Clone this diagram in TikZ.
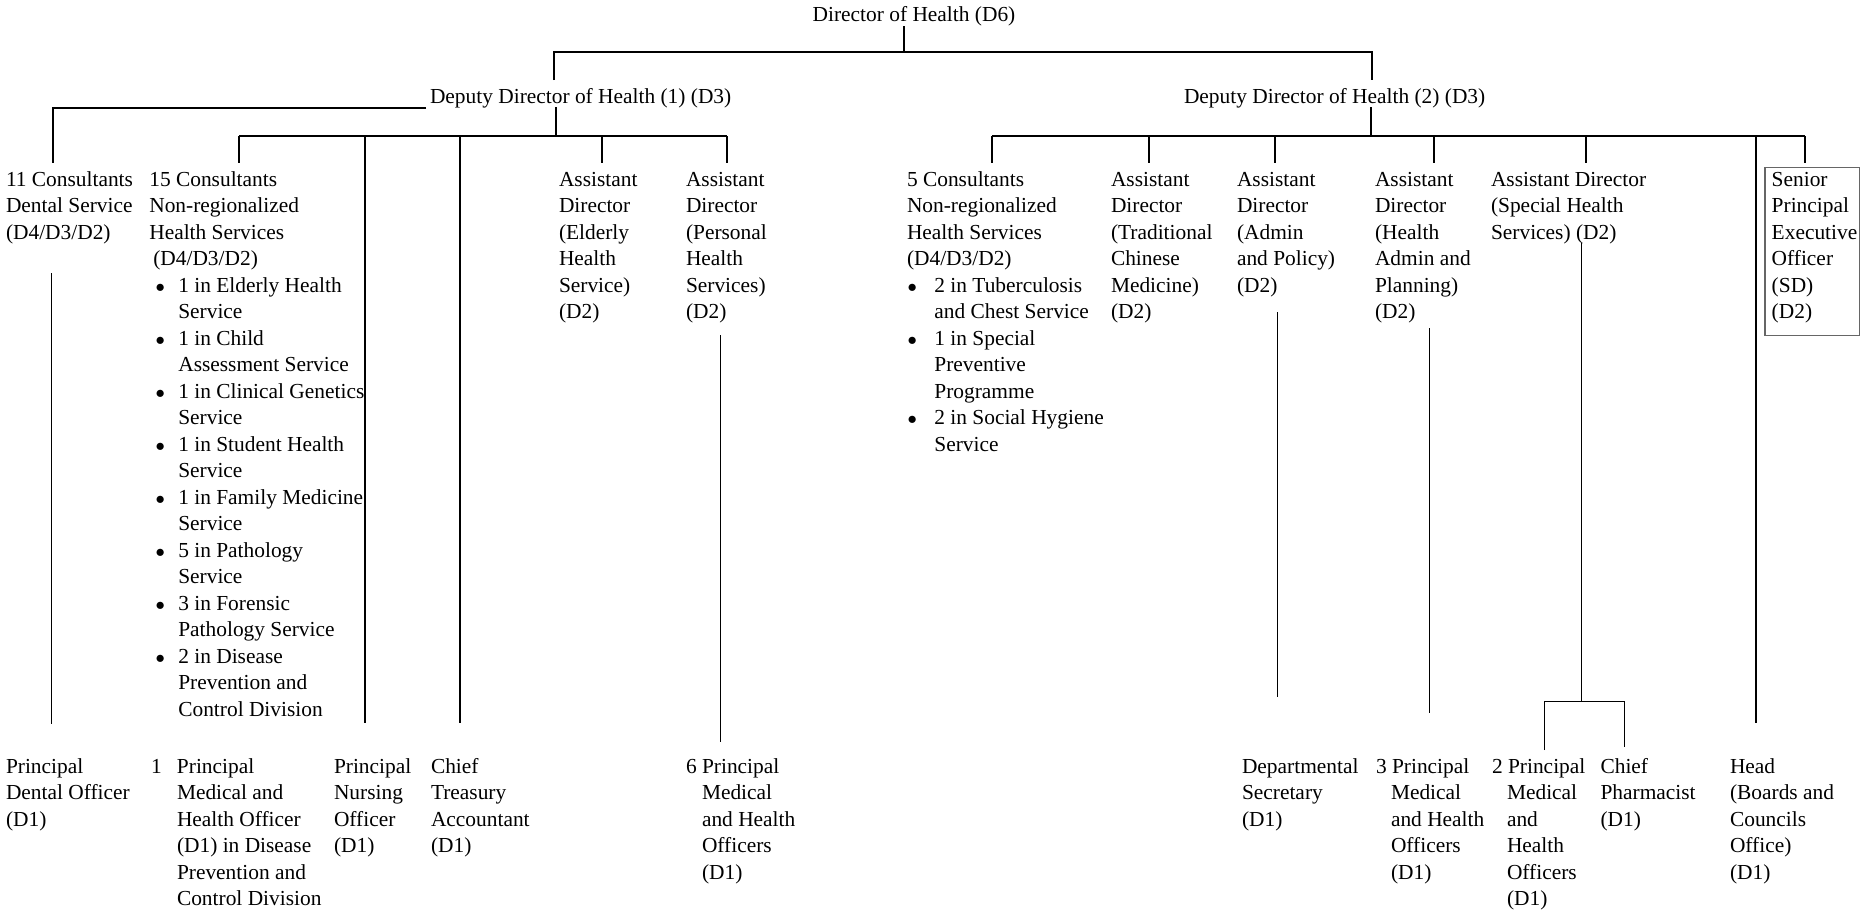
\documentclass[tikz,border=0pt]{standalone}
\usepackage{graphicx}
\usepackage{fontspec}
\setmainfont{Liberation Serif}
\newcommand{\mytab}[1]{\begin{tabular}[t]{@{}l@{}}#1\end{tabular}}
\newcommand{\bigdot}{\scalebox{0.85}{$\bullet$}}
\newcommand{\bA}{\hspace*{3.2pt}\makebox[11.3pt][l]{\bigdot}}
\newcommand{\bC}{\hspace*{14.5pt}}
\newcommand{\bB}{\makebox[13.7pt][l]{\hspace*{0.3pt}\bigdot}}
\newcommand{\bD}{\hspace*{13.7pt}}
\begin{document}
\begin{tikzpicture}[x=0.5pt,y=-0.5pt,
  lbl/.style={anchor=base west,inner sep=0pt,outer sep=0pt,font=\fontsize{10.7pt}{13.25pt}\selectfont},
  thk/.style={line width=0.9pt,draw=black},
  thn/.style={line width=0.5pt,draw=black},
  boxln/.style={line width=0.55pt,draw=black!60}]
\useasboundingbox (0,0) rectangle (1861,910);

% ---------- top levels ----------
\node[lbl] (dir) at (812.7,21) {Director of Health (D6)};
\node[lbl] (dd1) at (430,103) {Deputy Director of Health (1) (D3)};
\node[lbl] (dd2) at (1184,103) {Deputy Director of Health (2) (D3)};

% ---------- row 1 ----------
\node[lbl] (c11) at (6,186) {\mytab{11 Consultants\\Dental Service\\(D4/D3/D2)}};
\node[lbl] (c15) at (149.3,186) {\mytab{15 Consultants\\Non-regionalized\\Health Services\\\hspace*{2pt}(D4/D3/D2)\\
\bA 1 in Elderly Health\\\bC Service\\
\bA 1 in Child\\\bC Assessment Service\\
\bA 1 in Clinical Genetics\\\bC Service\\
\bA 1 in Student Health\\\bC Service\\
\bA 1 in Family Medicine\\\bC Service\\
\bA 5 in Pathology\\\bC Service\\
\bA 3 in Forensic\\\bC Pathology Service\\
\bA 2 in Disease\\\bC Prevention and\\\bC Control Division}};
\node[lbl] (aEld) at (559,186) {\mytab{Assistant\\Director\\(Elderly\\Health\\Service)\\(D2)}};
\node[lbl] (aPers) at (686,186) {\mytab{Assistant\\Director\\(Personal\\Health\\Services)\\(D2)}};
\node[lbl] (c5) at (907,186) {\mytab{5 Consultants\\Non-regionalized\\Health Services\\(D4/D3/D2)\\
\bB 2 in Tuberculosis\\\bD and Chest Service\\
\bB 1 in Special\\\bD Preventive\\\bD Programme\\
\bB 2 in Social Hygiene\\\bD Service}};
\node[lbl] (aTCM) at (1111,186) {\mytab{Assistant\\Director\\(Traditional\\Chinese\\Medicine)\\(D2)}};
\node[lbl] (aAdm) at (1237,186) {\mytab{Assistant\\Director\\(Admin\\and Policy)\\(D2)}};
\node[lbl] (aHAP) at (1375,186) {\mytab{Assistant\\Director\\(Health\\Admin and\\Planning)\\(D2)}};
\node[lbl] (aSHS) at (1491,186) {\mytab{Assistant Director\\(Special Health\\Services) (D2)}};
\node[lbl] (sPEO) at (1771.7,186) {\mytab{Senior\\Principal\\Executive\\Officer\\(SD)\\(D2)}};
\draw[boxln] (1765,167.5) rectangle (1859.5,335.5);

% ---------- bottom row ----------
\node[lbl] (pDO) at (6,773) {\mytab{Principal\\Dental Officer\\(D1)}};
\node[lbl] (pMHO) at (151,773) {\mytab{\makebox[13pt][l]{1}Principal\\\hspace*{13pt}Medical and\\\hspace*{13pt}Health Officer\\\hspace*{13pt}(D1) in Disease\\\hspace*{13pt}Prevention and\\\hspace*{13pt}Control Division}};
\node[lbl] (pNO) at (334,773) {\mytab{Principal\\Nursing\\Officer\\(D1)}};
\node[lbl] (cTA) at (431,773) {\mytab{Chief\\Treasury\\Accountant\\(D1)}};
\node[lbl] (p6) at (686,773) {\mytab{6 Principal\\\hspace*{8pt}Medical\\\hspace*{8pt}and Health\\\hspace*{8pt}Officers\\\hspace*{8pt}(D1)}};
\node[lbl] (dSec) at (1242,773) {\mytab{Departmental\\Secretary\\(D1)}};
\node[lbl] (p3) at (1376,773) {\mytab{3 Principal\\\hspace*{7.5pt}Medical\\\hspace*{7.5pt}and Health\\\hspace*{7.5pt}Officers\\\hspace*{7.5pt}(D1)}};
\node[lbl] (p2) at (1492,773) {\mytab{2 Principal\\\hspace*{7.5pt}Medical\\\hspace*{7.5pt}and\\\hspace*{7.5pt}Health\\\hspace*{7.5pt}Officers\\\hspace*{7.5pt}(D1)}};
\node[lbl] (cPh) at (1600.5,773) {\mytab{Chief\\Pharmacist\\(D1)}};
\node[lbl] (hBC) at (1730,773) {\mytab{Head\\(Boards and\\Councils\\Office)\\(D1)}};

% ---------- connectors: top ----------
\coordinate (dirS) at (904,26);
\coordinate (dirJ) at (904,52);
\coordinate (topL) at (554,52);
\coordinate (topR) at (1372,52);
\coordinate (dd1N) at (554,80);
\coordinate (dd2N) at (1372,80);
\draw[thk] (dirS) -- (dirJ);
\draw[thk] (dd1N) -- (topL) -- (topR) -- (dd2N);

% Deputy 1
\coordinate (dd1W) at (426,108);
\coordinate (c11N) at (53,163);
\draw[thk] (dd1W) -| (c11N);
\coordinate (dd1S) at (556,107);
\coordinate (bar1) at (556,136);
\draw[thk] (dd1S) -- (bar1);
\coordinate (bar1L) at (239,136);
\coordinate (bar1R) at (727,136);
\draw[thk] (bar1L) -- (bar1R);
\foreach \x in {239,602,727} \draw[thk] (\x,136) -- (\x,163);
\foreach \x in {365,460} \draw[thk] (\x,136) -- (\x,723);

% Deputy 2
\coordinate (dd2S) at (1371,107);
\coordinate (bar2) at (1371,136);
\draw[thk] (dd2S) -- (bar2);
\coordinate (bar2L) at (992,136);
\coordinate (bar2R) at (1805,136);
\draw[thk] (bar2L) -- (bar2R);
\foreach \x in {992,1149,1275,1434,1586,1805} \draw[thk] (\x,136) -- (\x,163);
\draw[thk] (1756,136) -- (1756,723);

% ---------- connectors: thin ----------
\coordinate (dentT) at (51,273);   \coordinate (dentB) at (51,724);
\coordinate (persT) at (720,335);  \coordinate (persB) at (720,742);
\coordinate (admT) at (1277,312);  \coordinate (admB) at (1277,697);
\coordinate (hapT) at (1429,328);  \coordinate (hapB) at (1429,713);
\coordinate (shsT) at (1581,243);  \coordinate (shsB) at (1581,701);
\coordinate (shsL) at (1544,701);  \coordinate (shsR) at (1624,701);
\coordinate (p2N) at (1544,750);   \coordinate (cPhN) at (1624,747);
\draw[thn] (dentT) -- (dentB);
\draw[thn] (persT) -- (persB);
\draw[thn] (admT) -- (admB);
\draw[thn] (hapT) -- (hapB);
\draw[thn] (shsT) -- (shsB);
\draw[thn] (p2N) -- (shsL) -- (shsR) -- (cPhN);
\end{tikzpicture}
\end{document}
